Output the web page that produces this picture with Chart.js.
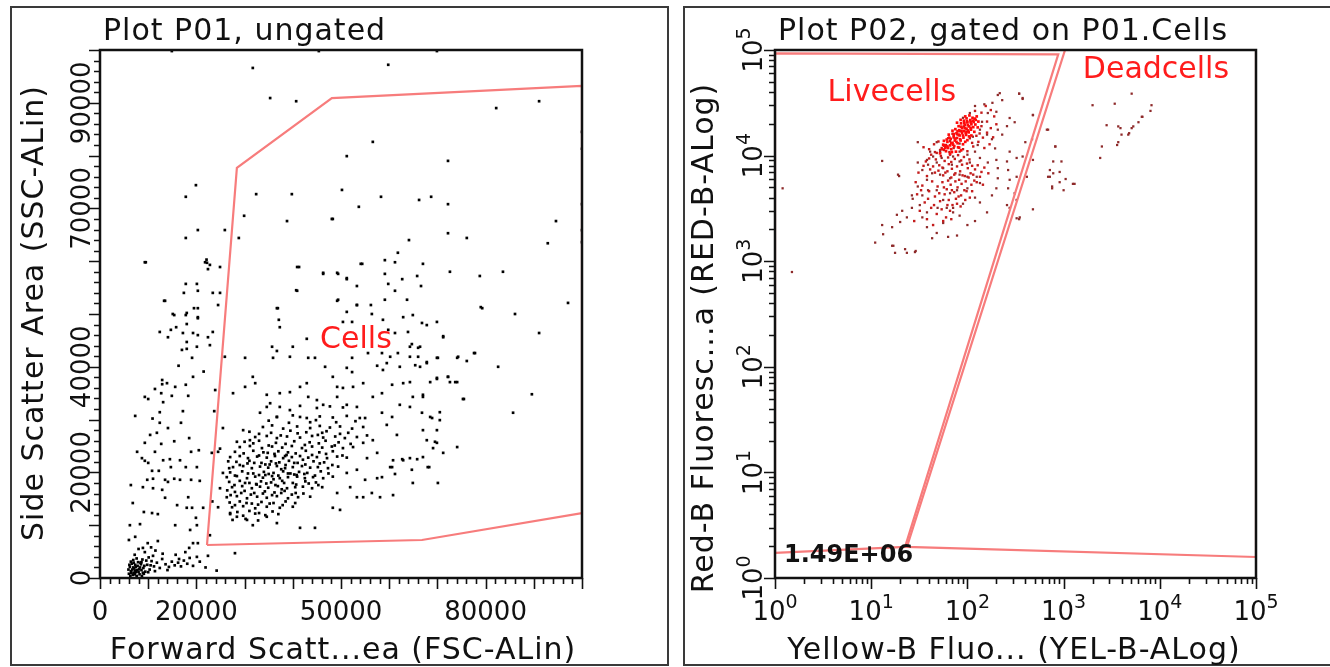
<!DOCTYPE html>
<html>
<head>
<meta charset="utf-8">
<script src="https://cdn.jsdelivr.net/npm/chart.js@4.4.0/dist/chart.umd.min.js"></script>
<style>
  html, body { margin: 0; padding: 0; background: #fff; }
  #wrap { position: relative; width: 1330px; height: 667px; overflow: hidden; }
  canvas { position: absolute; top: 0; }
  #p01 { left: 0; }
  #p02 { left: 676px; }
</style>
</head>
<body>
<div id="wrap">
  <canvas id="p01" width="676" height="667"></canvas>
  <canvas id="p02" width="654" height="667"></canvas>
</div>
<script>
'use strict';

// ── P01: FSC-A vs SSC-A (linear) ──────────────────────────────
const debrisEvents = [
  [6000,800],[6400,1300],[6800,600],[7100,1800],[7500,1100],[7800,2300],[8200,700],[8600,1500],[6200,2100],[6600,2700],
  [7300,2500],[7900,3000],[8500,2600],[9000,1900],[9400,1200],[9800,2500],[10300,1600],[10700,3200],[11200,2200],[6900,3400],
  [7600,3700],[8800,3500],[5900,1600],[6300,400],[7000,1000],[7700,1500],[8300,2000],[9100,800],[9600,3300],[10100,3900],
  [11000,4200],[11800,2900],[12400,1900],[12900,3600],[13600,2600],[14300,2100],[14900,3100],[15500,2400],[16200,2900],[16800,2200],
  [17400,3300],[18100,2700],[18600,3800],[19300,2300],[13000,4600],[11500,5200],[9300,4900],[10600,5800],[7200,4400],[8000,5500],
  [20700,3100],[21900,2000],[24200,1400],[15700,4400],[17700,4900],[12000,7000],[9900,6600],[6500,1000],[6700,1600],[7200,700],
  [7400,2100],[8000,1200],[8400,2900],[8900,1000],[9200,2300],[7000,2900],[6100,2500],[7600,400],[8700,400],[10000,1100],
  [10500,2400],[11400,1300],[6900,2000],[7300,1400],[8100,1700],[6400,3100],[8600,3000],[16400,3600],[14000,1500]
];
const lowEvents = [
  [9300,59800],[22200,59700],[22800,59300],[22400,58500],[17800,55700],[20100,55700],[17400,54000],[20300,54400],[23400,54000],[24900,54000],
  [24500,51700],[13300,52500],[19500,51100],[20300,51100],[15400,49800],[17800,49800],[20300,49200],[18000,48100],[15800,47500],[14700,47000],
  [12400,46600],[17200,46400],[19300,46400],[20300,46000],[23400,46600],[14100,45600],[22400,45600],[18000,44700],[20100,43800],[22800,44100],
  [17000,43200],[18000,43400],[19100,41700],[19300,38100],[12900,37500],[12900,36700],[11400,35800],[13900,36900],[15600,36200],[17800,36600],
  [12700,35000],[14900,34500],[18300,34500],[9300,34300],[10000,33900],[13100,33300],[23900,35600],[12400,31400],[17200,31600],[7300,30700],
  [12400,29400],[16800,29400],[23700,31600],[14100,28400],[10400,27100],[11800,27500],[9300,25600],[12700,25400],[15400,25900],[18500,26500],
  [7700,23900],[11400,23900],[18900,23900],[20500,24200],[23200,23700],[8700,22700],[9300,22200],[10000,21800],[13100,22300],[14500,22500],
  [16600,22300],[10800,20300],[12200,20300],[14700,21000],[17800,21000],[20100,21000],[6400,17600],[9800,18600],[11000,18800],[13500,18600],
  [14100,18200],[15400,18800],[16600,18600],[18900,18600],[20700,18400],[8900,17200],[11000,17000],[12900,16700],[13500,15200],[18300,15300],
  [6800,14200],[16000,13800],[9100,12500],[10800,12300],[12000,12100],[18000,13300],[19100,13300],[21400,13300],[19900,11400],[6200,10000],
  [8300,10200],[15600,10000],[20100,10000],[18700,9100],[7300,7800],[6000,7200],[8900,5700],[19300,6600],[20300,6600],[18500,5700],
  [22800,8100],[22400,4200],[20100,4000],[28000,4700],[14900,99800],[19900,74400],[17800,72200],[20300,65900],[17800,64400],[9500,59800],
  [21800,59800],[22100,60300],[24900,58900],[13500,52500],[15100,50000],[18000,50200],[20300,49400],[16300,40200],[21500,39100],[10900,30200]
];
const cellEvents = [
  // sparse shoulder of the population
  [40900,58900],[46300,57800],[49200,57800],[51200,56800],[54400,59500],[40900,54400],[49200,52500],[53300,51700],[36900,51100],[37100,48900],
  [37300,47500],[51200,50400],[50400,48500],[52300,48500],[56400,50000],[58700,48900],[62900,49400],[64900,49800],[66800,48300],[69900,48500],
  [67800,47900],[59800,47000],[61200,46400],[63900,46600],[71200,45600],[42900,45300],[35700,43800],[40000,43800],[36700,43000],[39400,41900],
  [35900,41700],[43200,41700],[44600,41700],[30100,41700],[25900,41900],[52300,41700],[55600,42600],[58500,42600],[60200,41900],[64300,43800],
  [66000,43600],[64300,41900],[66000,41900],[67800,40900],[70100,41700],[74100,41700],[76100,41100],[77800,42600],[82600,40000],[46700,40000],
  [51200,39800],[52300,39000],[48300,38100],[57500,40200],[58700,39400],[62200,40000],[66400,40000],[69900,37900],[72200,38100],[72600,37100],
  [74100,37100],[75300,33900],[31700,38100],[27600,35000],[30100,36200],[32200,36900],[34600,34700],[35300,33100],[37300,35000],[39400,35200],
  [41500,36200],[42900,36900],[43200,34300],[45000,33700],[46300,32800],[49200,36200],[50400,36000],[52500,36200],[54600,36900],[49200,34300],
  [51200,32800],[53300,32400],[55000,30300],[56600,34300],[58500,35000],[60600,36600],[62900,36900],[64900,34300],[67000,34700],[62200,32800],
  [64300,32400],[68500,30500],[66800,31300],[58500,31300],[60600,30500],[59500,29000],[61600,27100],[56600,26100],[54600,25600],[57500,23700],
  [55400,22700],[53300,20500],[51200,19900],[55000,18600],[56400,16100],[60800,22300],[62900,22300],[64300,22700],[60600,21000],[64700,20500],
  [68000,21000],[69100,24600],[71200,23700],[67800,26100],[69900,25600],[67000,28000],[69900,28000],[70500,31400],[64900,18000],[70100,18000],
  [60800,15700],[58500,19100],[58100,15300],[54600,15300],[53300,15300],[48300,13300],[44600,9500],[41500,9500],[46100,27500],[43600,29500],
  [41500,30500],[39400,31800],[36700,30500],[34600,32400],[33200,31300],[29700,28000],[31100,26100],[28400,25800],[25500,28400],[24500,23900],
  [25500,19900],[24900,17000],[24500,13400],[27000,12300],[28400,11600],[30500,11000],[31700,10000],[34600,11600],[36700,10400],
  [71200,45800],[77600,42600],[74300,41900],[85700,31300],[75500,33900],[89600,34800],[74100,24800],[69500,25800],[67000,22900],[68300,21000],
  [65800,22500],[62700,22500],[61200,19700],[60200,21000],[70500,29900],[68900,30300],[67000,34300],[64300,37100],[68500,37100],[72200,38100],
  [73700,37100],[69900,37700],[65400,40300],[67800,40700],[69900,41700],[64700,44300],[66400,43800],[61800,42600],[59500,40700],[49800,12900],
  [49200,16100],[51900,17200],[57500,18900],[24900,24500],[26600,22100],[26400,16600],[26800,20800],[23300,14500],
  // dense core
  [33800,28600],[35700,28900],[38000,28300],[40900,28700],[43600,28400],[45600,28800],[47700,28500],[49800,28700],[52300,28300],[54600,28600],
  [32200,26700],[34600,26900],[36700,26500],[38800,26800],[41500,26600],[44000,26900],[46300,26600],[48800,26800],[50800,26500],[53300,26700],
  [29000,24800],[31100,25000],[33600,24600],[35700,24900],[37800,24700],[39800,25000],[41900,24600],[44000,24900],[46100,24700],[48100,24900],
  [50400,24600],[52500,24800],[27000,22900],[29000,23100],[30700,22700],[32600,23000],[34600,22800],[36300,23100],[38000,22700],[39800,22900],
  [41500,23100],[43200,22800],[45000,22900],[47100,22700],[49200,23000],[51200,22800],[27600,21000],[29700,21200],[31500,20800],[33200,21100],
  [34900,20900],[36700,21200],[38400,20800],[40000,21000],[41900,21200],[43600,20900],[45200,21000],[47300,20800],[49400,21100],[26300,19100],
  [28400,19300],[30500,18900],[32200,19200],[33800,19000],[35700,19300],[37300,18900],[39000,19100],[40900,19200],[42500,18900],[44200,19100],
  [46300,18900],[48300,19200],[27400,17200],[29500,17400],[31500,17000],[33200,17300],[34900,17100],[36900,17400],[38800,17000],[40500,17200],
  [42100,17300],[44000,17000],[46100,17200],[26300,15300],[28400,15500],[30500,15100],[32600,15400],[34600,15200],[36700,15500],[39000,15100],
  [41100,15300],[43600,15400],[27400,13400],[29700,13600],[32200,13200],[34600,13500],[37300,13300],[40000,13500],[36700,30500],[40000,30800],
  [42900,30300],[45600,30600],[48300,30400],[51200,30700],[53900,30300],[37300,32400],[41500,32600],[45000,32200],[47700,32500],[50400,32300],
  [31000,27700],[35500,27500],[39500,27900],[42800,27600],[47000,27800],[51500,27500],[30000,25800],[33000,26000],[36500,25600],[40300,25900],
  [43500,25700],[46800,26000],[49500,25700],[28000,23900],[31800,24100],[34800,23700],[37000,24000],[39000,23800],[42700,24100],[45500,23800],
  [48300,24000],[28300,22000],[31000,22200],[33500,21800],[35500,22100],[37200,21900],[39200,22200],[41000,21800],[44300,22100],[46500,21900],
  [27000,20000],[29500,20200],[31800,19800],[34000,20100],[36000,19900],[38000,20200],[39500,19800],[41300,20100],[43000,19900],[45800,20200],
  [26800,18200],[29000,18400],[31000,18000],[33400,18300],[35500,18100],[37800,18400],[40000,18000],[42600,18300],[44800,18100],[28000,16300],
  [30000,16500],[32000,16100],[34200,16400],[36200,16200],[38300,16500],[40600,16100],[26900,14300],[29000,14500],[31500,14100],[33500,14400],
  [36000,14200],[38500,14500],[28500,12500],[31000,12700],[33000,12300],[35800,12600],[27500,11000],[30200,11200],[32800,10900],[35200,21500],
  [37600,20600],[33900,23800],[36000,18700],[38700,23300],[30600,21700],[40300,19600],[34300,19500],[32400,17800],[37700,16800],[42100,22400],
  [35000,29800],[39200,29400],[44800,29900],[49000,29500],[53000,29700],[33000,27300],[37500,27000],[41000,27400],[45200,27100],[49800,27300],
  [55400,27000],[31800,25500],[35000,25100],[38500,25400],[42500,25200],[45400,25500],[48700,25100],[52000,25400],[29800,23600],[33000,23200],
  [36200,23500],[38400,23100],[40600,23600],[44000,23300],[46900,23500],[50300,23200],[29000,21400],[32000,21800],[34300,21500],[36500,21700],
  [38500,21400],[40300,21800],[42600,21500],[45600,21700],[48200,21400],[28000,19400],[30700,19800],[33000,19500],[35000,19700],[37000,19400],
  [39000,19800],[40800,19500],[42400,19700],[44600,19400],[47400,19800],[27900,17600],[30100,18000],[32500,17700],[34500,17900],[36400,17600],
  [38200,18000],[40700,17700],[43300,17900],[45300,17600],[27100,15700],[29300,16100],[31300,15800],[33800,16000],[35700,15700],[37600,16100],
  [39800,15800],[42200,16000],[28000,13800],[30400,14200],[32800,13900],[35200,14100],[37900,13800],[40500,14200],[27000,12100],[29700,11800],
  [32200,12200],[34300,11900],[37000,12100]
];
const highEvents = [
  [31700,96600],[35300,90900],[40700,90300],[45400,99800],[59800,97200],[82200,89000],[91100,90300],[69900,99800],[56600,82600],[51200,79900],
  [72200,79000],[50200,73500],[58300,72200],[66200,71600],[68700,72200],[72200,70800],[53700,70300],[48300,68000],[94600,67600],[64100,64000],
  [72200,65300],[76100,64400],[92900,63400],[61800,61600],[54100,59500],[59100,60200],[61200,59800],[67000,59500],[49400,57600],[51200,56600],
  [59100,57600],[62700,56600],[65800,57200],[72600,58000],[78800,57200],[83600,58000],[53300,55300],[59800,55700],[66600,55300],[61200,54400],
  [49400,52700],[53300,51700],[56200,51700],[59100,52700],[63700,52700],[79000,51300],[86100,50000],[97100,52100],[91100,46400],[79300,51100],
  [100000,84500],[100000,81300],[100000,70800],[100000,65900],[100000,63600],[32400,72700],[39800,72700],[29900,68600],[38800,67600],[48100,68000],
  [25900,65900],[28800,64400],[41300,58900],[46300,57600],[40700,54500],[36700,51100]
];
const cellsGate = [[22200,6250],[28400,77700],[48100,90900],[100000,93200],[100000,12300],[66800,7200],[22200,6250]];

// ── P02: YEL-B-A vs RED-B-A (log) ─────────────────────────────
const liveCore = [
  [60,11000],[63,11800],[66,12500],[70,13200],[74,13900],[78,14700],[83,15500],[88,16300],[93,17100],[98,18000],
  [104,18900],[110,19800],[116,20800],[122,21800],[58,12500],[62,13500],[67,14400],[72,15300],[77,16300],[82,17400],
  [88,18400],[94,19500],[100,20600],[107,21700],[113,22800],[68,11500],[73,12300],[79,13100],[85,13900],[91,14800],
  [97,15700],[103,16600],[109,17600],[115,18600],[121,19700],[75,17800],[81,19000],[86,20200],[92,21400],[98,22500],
  [55,11500],[57,13800],[64,15800],[70,17200],[80,12000],[90,12800],[100,14000],[110,15500],[118,16800],[52,10500],
  [66,10400],[76,10900],[86,11200],[125,23500],[105,24000],[95,23500],[130,21000],[128,18500],[85,21800],[78,20500],
  [62,12200],[68,13100],[75,14500],[81,15800],[87,17200],[94,18200],[101,19400],[108,20700],[114,21400],[119,22400],
  [71,12700],[77,13500],[84,14300],[90,15500],[96,16500],[102,17300],[108,18300],[65,14800],[72,16000],[79,17000],
  [86,18800],[93,20300],[99,21100],[59,11800],[56,12700],[61,14200],[69,10800],[82,11900],[95,13500],[104,15200]
];
const liveMid = [
  [35,12000],[40,11500],[45,12800],[50,13600],[42,10200],[47,9200],[53,9900],[58,8900],[63,9600],[68,8700],
  [74,9300],[80,10100],[86,9000],[92,9700],[99,8400],[105,9200],[112,8000],[120,7400],[128,8100],[140,7000],
  [150,7700],[165,6800],[44,7900],[50,7200],[56,6500],[62,7100],[68,6200],[75,6800],[82,5900],[89,6500],
  [96,5700],[103,6200],[110,5300],[118,5800],[38,6400],[43,5700],[49,5100],[55,5600],[61,4800],[67,5300],
  [73,4500],[79,5000],[86,4200],[93,4700],[34,5200],[40,4600],[46,4100],[52,3700],[58,4300],[64,3800],
  [70,3400],[76,3900],[30,4300],[36,3600],[42,3200],[48,2800],[54,3100],[60,2600],[66,3000],[32,3000],
  [38,2500],[44,2200],[28,2400],[72,11800],[65,10800],[57,11300],[90,11500],[100,11000],[115,12200],[130,13500],
  [145,14800],[160,16500],[175,18200],[150,11800],[170,12800],[185,14900],[200,19800],[190,23500],[175,27000],[160,21000],
  [140,19000],[140,25500],[155,29500],[120,26500],
  [37,8800],[41,7400],[46,6900],[51,8100],[55,7700],[59,6900],[64,8300],[69,7500],[73,6600],[78,7900],
  [84,7100],[88,8200],[94,6400],[101,7600],[108,6800],[115,6600],[125,5600],[135,6300],[48,10600],[54,11800],
  [60,12600],[66,13700],[72,14800],[78,15900],[84,17000],[92,18900],[99,16900],[106,14600],[112,13200],[124,15400],
  [134,16200],[70,16100],[63,14600],[57,12400],[52,11300],[46,10800],[40,9400],[35,8000],[31,6900],[29,5600],
  [33,4700],[39,3900],[45,3400],[51,4400],[57,5000],[63,5800],[69,4700],[75,5700],[81,4100],[87,5400],
  [98,4600],[106,4000],[85,3300],[95,3800],[62,3400],[56,2400],[68,2500],[78,3500],[112,4600],[145,5300]
];
const liveSparse = [
  [207,37500],[230,33500],[345,38600],[375,35100],[480,24300],[120,29500],[150,30600],[182,31600],[163,25300],[200,26000],
  [275,22700],[310,20700],[258,19000],[670,17600],[400,13400],[470,14300],[820,12200],[30.5,13400],[13,8900],[19.5,6400],
  [41,10900],[34,7300],[39,8200],[48,8600],[56,7600],[69,8200],[83,8800],[106,8600],[135,9500],[163,8600],
  [200,9100],[258,8800],[325,9500],[275,10900],[207,7600],[265,7300],[325,6300],[415,6300],[275,5900],[207,6100],
  [200,4900],[265,4900],[310,4400],[258,3400],[350,2600],[180,4200],[160,2900],[100,2200],[120,2400],[71,2900],
  [83,2700],[56,2300],[48,1850],[63,1700],[78,1750],[43,1650],[38,2100],[28.5,1220],[23.5,1200],[17,1400],
  [17.7,1200],[11,1500],[13.3,1800],[13,2200],[16.5,2100],[20,2350],[23.5,2600],[21,3000],[26.5,3200],[18.5,2750],
  [27,3900],[34,4200],[30.5,5100],[38,5900],[39,4700],[48,4700],[56,3800],[66,4400],[78,4700],[100,4900],
  [120,4000],[135,3600],[49,3200],[61,3200],[38,2900],[34,2600],[71,3200],[90,3500],[100,6300],[125,6300],
  [135,5500],[83,6600],[66,6100],[52,6600],[43,6800],[44,9800],[52,10900],[48,13400],[59,12200],[83,13000],
  [114,15100],[135,17600],[142,20900],[106,25300],[90,22800],[128,12600],[160,15800],[180,14300],[194,11700],[207,17600],
  [230,15800],[83,10900],[100,10200],[120,10900],[66,10200],[38,9100],[54,9500],[71,9800],[26.5,4200],[32,3400],
  [780,8800],[720,7300],[910,7000],[760,4900],[690,6300],[480,9100],[375,9800],[275,3200],[325,3800],[325,2550],
  [1.2,4900],[1.5,790],[30.5,8600],[19,6600],[22.5,1300],[16.5,1400],[29,1250]
];
const deadEvents = [
  [5100,38600],[3400,31000],[2000,30000],[8200,30000],[6600,23300],[6000,20700],[5300,18900],[4700,15800],[4000,15800],[3700,18900],
  [2800,19400],[3700,13400],[3600,12600],[2500,12200],[2400,9500],[8000,26500],[6500,23300],[5100,18200],[4800,16300],[3900,18200],
  [690,17600],[820,12200],[950,8800],[780,6800],[720,6300],[910,5600],[1250,5400],[1000,4700],[760,5100],[480,3100],
  [345,2500],[480,24100],[375,34400],[345,38600],[217,39000],[1300,5400],[1050,6000]
];
const liveGate = [[1,93000],[880,91000],[22.5,1.97],[1,1.73],[1,93000]];
const deadGate = [[1035,100000],[100000,100000],[100000,1.58],[23.5,1.97],[1035,100000]];

// ── Helpers ───────────────────────────────────────────────────
const FONT = '"DejaVu Sans", Verdana, sans-serif';
const GATE_COLOR = '#f77c7c';
const LABEL_RED  = '#ff1c1c';

const toPoints = rows => rows.map(([x, y]) => ({ x, y }));

function events(rows, color, radius = 1.9) {
  return { data: toPoints(rows), backgroundColor: color, borderWidth: 0, pointStyle: 'rect', pointRadius: radius, pointHoverRadius: radius };
}

function gate(rows) {
  return { data: toPoints(rows), showLine: true, borderColor: GATE_COLOR, borderWidth: 2.2, pointRadius: 0, fill: false, tension: 0 };
}

function linTicks() {
  const out = [];
  for (let v = 0; v <= 100000; v += 2000) out.push({ v, major: v % 10000 === 0 });
  return out;
}

function logTicks() {
  const out = [];
  for (let d = 0; d <= 5; d++) {
    for (let m = 1; m <= 9; m++) {
      const v = m * Math.pow(10, d);
      if (v > 100000) break;
      out.push({ v, major: m === 1 });
    }
  }
  return out;
}

// power-of-ten label: "10" with a raised exponent, centred on 0
function drawPow(ctx, exp) {
  ctx.font = '26px ' + FONT;
  const wb = ctx.measureText('10').width;
  ctx.font = '19px ' + FONT;
  const ws = ctx.measureText(exp).width;
  const sx = -(wb + ws) / 2;
  ctx.textAlign = 'left';
  ctx.font = '26px ' + FONT;
  ctx.fillText('10', sx, 0);
  ctx.font = '19px ' + FONT;
  ctx.fillText(exp, sx + wb, -12);
}

// ── Frame, axes, labels ───────────────────────────────────────
const facsPanel = {
  id: 'facsPanel',
  afterDraw(chart, args, o) {
    const { ctx, chartArea: a, scales: { x, y } } = chart;
    ctx.save();

    // panel frame
    ctx.strokeStyle = '#3a3a3a';
    ctx.lineWidth = 2;
    ctx.strokeRect(o.frame[0], o.frame[1], o.frame[2], o.frame[3]);

    // plot box
    ctx.strokeStyle = '#111';
    ctx.lineWidth = 2.5;
    ctx.strokeRect(a.left, a.top, a.right - a.left, a.bottom - a.top);

    // ticks
    const ticks = o.log ? logTicks() : linTicks();
    ctx.lineWidth = 1.6;
    ctx.beginPath();
    ticks.forEach(t => {
      const len = t.major ? 11 : 6;
      const px = Math.round(x.getPixelForValue(t.v)) + 0.5;
      ctx.moveTo(px, a.bottom); ctx.lineTo(px, a.bottom + len);
      const py = Math.round(y.getPixelForValue(t.v)) + 0.5;
      ctx.moveTo(a.left, py); ctx.lineTo(a.left - len, py);
    });
    ctx.stroke();

    // tick labels
    ctx.fillStyle = '#111';
    ctx.textBaseline = 'alphabetic';
    if (o.log) {
      o.xLabels.forEach(v => {
        ctx.save();
        ctx.translate(x.getPixelForValue(v), 620);
        drawPow(ctx, String(Math.round(Math.log10(v))));
        ctx.restore();
      });
      o.yLabels.forEach(v => {
        ctx.save();
        ctx.translate(a.left - 13, y.getPixelForValue(v));
        ctx.rotate(-Math.PI / 2);
        drawPow(ctx, String(Math.round(Math.log10(v))));
        ctx.restore();
      });
    } else {
      ctx.font = '26px ' + FONT;
      ctx.textAlign = 'center';
      o.xLabels.forEach(v => ctx.fillText(String(v), x.getPixelForValue(v), 620));
      o.yLabels.forEach(v => {
        ctx.save();
        ctx.translate(a.left - 10, y.getPixelForValue(v));
        ctx.rotate(-Math.PI / 2);
        ctx.fillText(String(v), 0, 0);
        ctx.restore();
      });
    }

    // title and axis titles
    ctx.font = '30px ' + FONT;
    ctx.letterSpacing = '1px';
    ctx.textAlign = 'left';
    ctx.fillText(o.title, a.left + 3, 40);
    ctx.textAlign = 'center';
    ctx.fillText(o.xTitle, o.xTitlePos[0], o.xTitlePos[1]);
    ctx.save();
    ctx.translate(o.yTitlePos[0], o.yTitlePos[1]);
    ctx.rotate(-Math.PI / 2);
    ctx.fillText(o.yTitle, 0, 0);
    ctx.restore();
    ctx.letterSpacing = '0px';

    // gate names
    ctx.font = '30px ' + FONT;
    ctx.fillStyle = LABEL_RED;
    ctx.textAlign = 'center';
    ctx.textBaseline = 'middle';
    o.gateLabels.forEach(g => ctx.fillText(g.text, x.getPixelForValue(g.x), y.getPixelForValue(g.y)));

    // event count
    if (o.count) {
      ctx.font = 'bold 24px ' + FONT;
      ctx.fillStyle = '#111';
      ctx.textAlign = 'left';
      ctx.fillText(o.count, a.left + 9, a.bottom - 22);
    }
    ctx.restore();
  }
};

function baseOptions(xType, yType, pad, panel) {
  return {
    responsive: false,
    animation: false,
    devicePixelRatio: 1,
    layout: { padding: pad },
    scales: {
      x: { type: xType, min: xType === 'logarithmic' ? 1 : 0, max: 100000, display: false },
      y: { type: yType, min: yType === 'logarithmic' ? 1 : 0, max: 100000, display: false }
    },
    plugins: { legend: { display: false }, tooltip: { enabled: false }, facsPanel: panel }
  };
}

// ── Charts ────────────────────────────────────────────────────
new Chart(document.getElementById('p01'), {
  type: 'scatter',
  data: {
    datasets: [
      gate(cellsGate),
      events(debrisEvents, '#000'),
      events(lowEvents, '#000'),
      events(cellEvents, '#000'),
      events(highEvents, '#000')
    ]
  },
  options: baseOptions('linear', 'linear', { left: 100, right: 94, top: 50, bottom: 89 }, {
    frame: [11, 7, 657, 658],
    log: false,
    xLabels: [0, 20000, 50000, 80000],
    yLabels: [0, 20000, 40000, 70000, 90000],
    title: 'Plot P01, ungated',
    xTitle: 'Forward Scatt...ea (FSC-ALin)',
    xTitlePos: [343, 659],
    yTitle: 'Side Scatter Area (SSC-ALin)',
    yTitlePos: [43, 313],
    gateLabels: [{ text: 'Cells', x: 53100, y: 45100 }]
  }),
  plugins: [facsPanel]
});

new Chart(document.getElementById('p02'), {
  type: 'scatter',
  data: {
    datasets: [
      gate(liveGate),
      gate(deadGate),
      events(liveCore, '#ff0a0a', 1.9),
      events(liveMid, '#c41c1c', 1.7),
      events(liveSparse, '#8e2a2a', 1.6),
      events(deadEvents, '#8e2a2a', 1.6)
    ]
  },
  options: baseOptions('logarithmic', 'logarithmic', { left: 99, right: 74, top: 50, bottom: 89 }, {
    frame: [8, 7, 700, 658],
    log: true,
    xLabels: [1, 10, 100, 1000, 10000, 100000],
    yLabels: [1, 10, 100, 1000, 10000, 100000],
    title: 'Plot P02, gated on P01.Cells',
    xTitle: 'Yellow-B Fluo... (YEL-B-ALog)',
    xTitlePos: [338, 659],
    yTitle: 'Red-B Fluoresc...a (RED-B-ALog)',
    yTitlePos: [37, 338],
    gateLabels: [
      { text: 'Livecells', x: 16.4, y: 39200 },
      { text: 'Deadcells', x: 9120, y: 64600 }
    ],
    count: '1.49E+06'
  }),
  plugins: [facsPanel]
});
</script>
</body>
</html>
